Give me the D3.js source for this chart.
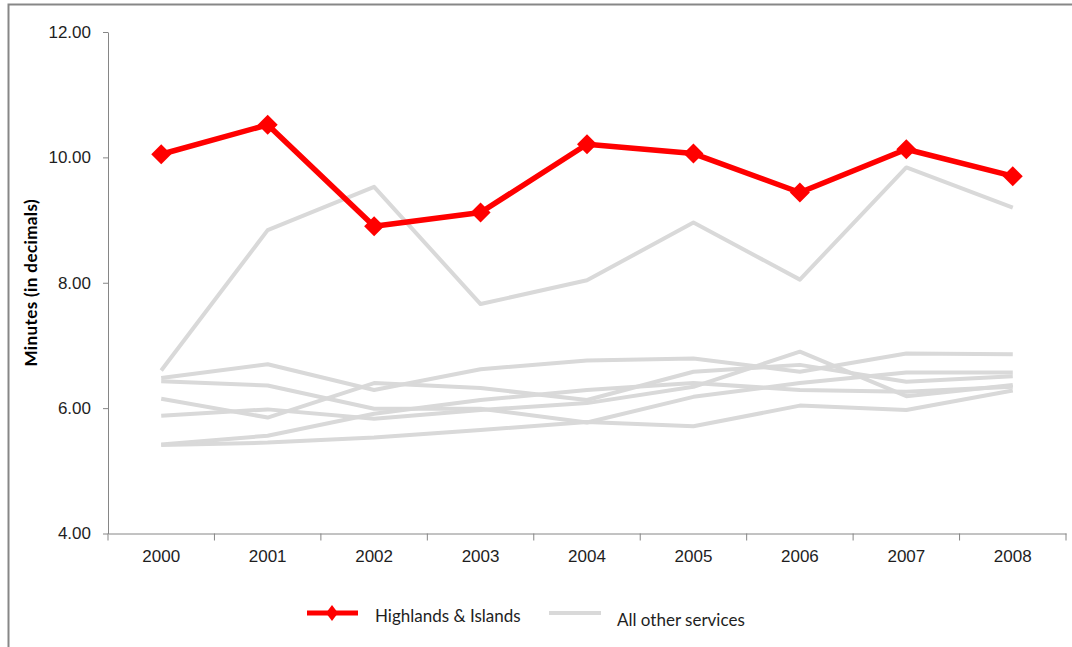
<!DOCTYPE html>
<html>
<head>
<meta charset="utf-8">
<script src="https://cdn.jsdelivr.net/npm/d3@7"></script>
<style>
  html, body { margin: 0; padding: 0; background: #fff; }
  svg { display: block; font-family: Lato, "Open Sans", sans-serif; }
</style>
</head>
<body>
<svg id="chart" width="1072" height="647"></svg>
<script>
// Years on the category axis
const years = ["2000", "2001", "2002", "2003", "2004", "2005", "2006", "2007", "2008"];

// Average response time in minutes, Highlands & Islands
const highlands = [10.05, 10.52, 8.90, 9.12, 10.21, 10.06, 9.44, 10.13, 9.70];

// Each of the other services, one array per service
const serviceA = [6.60, 8.84, 9.53, 7.66, 8.04, 8.96, 8.05, 9.84, 9.20];
const serviceB = [6.48, 6.70, 6.29, 6.62, 6.76, 6.79, 6.58, 6.87, 6.86];
const serviceC = [6.43, 6.36, 5.99, 5.99, 5.77, 6.18, 6.40, 6.57, 6.57];
const serviceD = [6.15, 5.85, 6.40, 6.32, 6.13, 6.58, 6.69, 6.42, 6.51];
const serviceE = [5.88, 5.98, 5.83, 5.97, 6.08, 6.34, 6.90, 6.19, 6.37];
const serviceF = [5.42, 5.56, 5.91, 6.13, 6.29, 6.40, 6.29, 6.26, 6.34];
const serviceG = [5.41, 5.45, 5.53, 5.65, 5.78, 5.71, 6.04, 5.97, 6.28];
const otherServices = [serviceA, serviceB, serviceC, serviceD, serviceE, serviceF, serviceG];

// Value axis ticks
const yTicks = [4, 6, 8, 10, 12];

const legendLabels = ["Highlands & Islands", "All other services"];

const svg = d3.select("#chart");
const plot = { left: 108, right: 1066, top: 32, bottom: 533.5 };

// Outer frame
svg.append("rect")
  .attr("x", 8.5).attr("y", 4.5)
  .attr("width", 1100).attr("height", 700)
  .attr("fill", "none").attr("stroke", "#878787").attr("stroke-width", 2);

const xBand = d3.scaleBand().domain(years).range([plot.left, plot.right]);
const x = d3.scalePoint().domain(years).range([plot.left, plot.right]).padding(0.5);
const y = d3.scaleLinear().domain([4, 12]).range([plot.bottom, plot.top]);

const axisColor = "#868686";
const textColor = "#1e1e1e";

// Y axis
const yAxis = svg.append("g")
  .attr("transform", `translate(${plot.left},0)`)
  .call(d3.axisLeft(y).tickValues(yTicks).tickFormat(d3.format(".2f")).tickSize(5).tickSizeOuter(0).tickPadding(12));
yAxis.select(".domain").attr("stroke", axisColor);
yAxis.selectAll(".tick line").attr("stroke", axisColor);
yAxis.selectAll(".tick text").attr("fill", textColor).attr("font-size", 17);

// X axis with ticks on the category boundaries
const xAxis = svg.append("g")
  .attr("transform", `translate(0,${plot.bottom})`)
  .call(d3.axisBottom(xBand).tickSize(0).tickSizeOuter(0).tickPadding(16));
xAxis.select(".domain").attr("stroke", axisColor);
xAxis.selectAll(".tick text").attr("fill", textColor).attr("font-size", 17);
const boundaries = years.map(d => xBand(d)).concat([xBand.range()[1]]);
xAxis.selectAll(".bound")
  .data(boundaries)
  .join("line")
  .attr("class", "bound")
  .attr("x1", d => d).attr("x2", d => d)
  .attr("y1", 0).attr("y2", 7)
  .attr("stroke", axisColor);

// Y axis title
svg.append("text")
  .attr("transform", `translate(37,${(plot.top + plot.bottom) / 2}) rotate(-90)`)
  .attr("text-anchor", "middle")
  .attr("font-size", 17)
  .attr("font-weight", "bold")
  .attr("letter-spacing", 0.4)
  .attr("fill", "#000")
  .text("Minutes (in decimals)");

const line = d3.line().x((d, i) => x(years[i])).y(d => y(d));

// Other services
svg.append("g")
  .selectAll("path")
  .data(otherServices)
  .join("path")
  .attr("d", line)
  .attr("fill", "none")
  .attr("stroke", "#d9d9d9")
  .attr("stroke-width", 4)
  .attr("stroke-linejoin", "round");

// Highlands & Islands
svg.append("path")
  .datum(highlands)
  .attr("d", line)
  .attr("fill", "none")
  .attr("stroke", "#ff0000")
  .attr("stroke-width", 5.5)
  .attr("stroke-linejoin", "round");

const diamond = (w, h) => `M0,${-h}L${w},0L0,${h}L${-w},0Z`;
svg.append("g")
  .selectAll("path")
  .data(highlands)
  .join("path")
  .attr("transform", (d, i) => `translate(${x(years[i])},${y(d)})`)
  .attr("d", diamond(10, 10))
  .attr("fill", "#ff0000");

// Legend
const legend = svg.append("g");
legend.append("line")
  .attr("x1", 307).attr("x2", 358).attr("y1", 613).attr("y2", 613)
  .attr("stroke", "#ff0000").attr("stroke-width", 5);
legend.append("path")
  .attr("transform", "translate(332,613)")
  .attr("d", diamond(6, 8))
  .attr("fill", "#ff0000");
legend.append("text")
  .attr("x", 375).attr("y", 616).attr("dy", "0.35em")
  .attr("font-size", 17).attr("fill", textColor)
  .text(legendLabels[0]);
legend.append("line")
  .attr("x1", 549).attr("x2", 601).attr("y1", 613).attr("y2", 613)
  .attr("stroke", "#d9d9d9").attr("stroke-width", 4);
legend.append("text")
  .attr("x", 617).attr("y", 620).attr("dy", "0.35em")
  .attr("font-size", 17).attr("fill", textColor)
  .text(legendLabels[1]);
</script>
</body>
</html>
